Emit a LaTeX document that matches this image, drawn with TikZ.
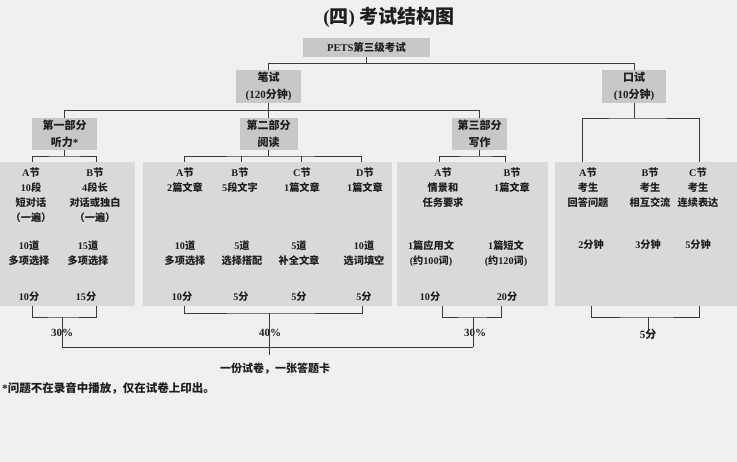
\documentclass[tikz,border=0pt]{standalone}
\usepackage{fontspec}
\setmainfont{Liberation Serif}
\newfontfamily\cjkfont{Noto Sans CJK SC}
\newfontfamily\latfont{Liberation Serif}
\XeTeXinterchartokenstate=1
\newXeTeXintercharclass\cjkclass
\newcount\cjkcnt
\cjkcnt="3000
\loop \XeTeXcharclass\cjkcnt=\cjkclass \advance\cjkcnt by 1 \ifnum\cjkcnt<"A000 \repeat
\cjkcnt="FF00
\loop \XeTeXcharclass\cjkcnt=\cjkclass \advance\cjkcnt by 1 \ifnum\cjkcnt<"FFF0 \repeat
\XeTeXinterchartoks 0 \cjkclass={\cjkfont}
\XeTeXinterchartoks 4095 \cjkclass={\cjkfont}
\XeTeXinterchartoks \cjkclass 0={\latfont}
\XeTeXinterchartoks \cjkclass 4095={\latfont}
\definecolor{bgc}{HTML}{F0F0EE}
\definecolor{panelc}{HTML}{D9D9D7}
\definecolor{hdrc}{HTML}{C8C8C6}
\definecolor{linec}{HTML}{3A3A3A}
\definecolor{txtc}{HTML}{1E1E1E}
\begin{document}
\begin{tikzpicture}[x=1pt,y=-1pt,
  ln/.style={draw=linec, line width=0.8pt},
  hdr/.style={fill=hdrc, inner sep=0pt, align=center, text=txtc,
    font=\bfseries\fontsize{11}{17}\selectfont},
  panel/.style={fill=panelc, draw=none, inner sep=0pt},
  tx/.style={inner sep=0pt, align=center, text=txtc,
    font=\bfseries\fontsize{10.2}{15}\selectfont},
  btx/.style={inner sep=0pt, align=center, text=txtc,
    font=\bfseries\fontsize{11}{15}\selectfont}]
\fill[bgc] (0,0) rectangle (737,462);
\useasboundingbox (0,0) rectangle (737,462);

% title
\node[text=txtc, inner sep=0pt, font=\bfseries\fontsize{19}{19}\selectfont] (title) at (389,17) {(四) 考试结构图};

% panels
\node[panel, minimum width=135pt, minimum height=144pt] (b1) at (67.5,234) {};
\node[panel, minimum width=249pt, minimum height=144pt] (b2) at (267.5,234) {};
\node[panel, minimum width=151pt, minimum height=144pt] (b3) at (472.5,234) {};
\node[panel, minimum width=182pt, minimum height=144pt] (b4) at (646,234) {};

% header boxes
\node[hdr, minimum width=127pt, minimum height=19pt, font=\bfseries\fontsize{10.5}{12}\selectfont] (pets) at (366.5,47.5) {PETS第三级考试};
\node[hdr, minimum width=65pt, minimum height=33pt] (bishi) at (268.5,86.5) {笔试\\(120分钟)};
\node[hdr, minimum width=64pt, minimum height=33pt] (koushi) at (634,86.5) {口试\\(10分钟)};
\node[hdr, minimum width=65pt, minimum height=32pt] (p1) at (64.5,134) {第一部分\\听力*};
\node[hdr, minimum width=58pt, minimum height=32pt] (p2) at (268.5,134) {第二部分\\阅读};
\node[hdr, minimum width=55pt, minimum height=32pt] (p3) at (479.5,134) {第三部分\\写作};

% top connectors
\coordinate (j0) at (366.5,63);
\draw[ln] (pets.south) -- (j0);
\draw[ln] (bishi.north) |- (j0 -| koushi.north) -- (koushi.north);
\coordinate (j1) at (268.5,110);
\draw[ln] (bishi.south) -- (j1);
\draw[ln] (p1.north) |- (j1 -| p3.north) -- (p3.north);
\draw[ln] (j1) -- (p2.north);
\coordinate (j3) at (634,118);
\coordinate (o1) at (582,162);
\coordinate (o3) at (699,162);
\draw[ln] (koushi.south) -- (j3);
\draw[ln] (o1) |- (j3) -| (o3);
\coordinate (k1) at (64.5,156);
\coordinate (a1) at (32,162);
\coordinate (a2) at (96,162);
\draw[ln] (p1.south) -- (k1);
\draw[ln] (a1) |- (k1) -| (a2);
\coordinate (k2) at (268.5,156);
\coordinate (r1) at (184,162);
\coordinate (r2) at (241,162);
\coordinate (r3) at (301,162);
\coordinate (r4) at (361,162);
\draw[ln] (p2.south) -- (k2);
\draw[ln] (r1) |- (k2) -| (r4);
\draw[ln] (r2) -- (r2 |- k2);
\draw[ln] (r3) -- (r3 |- k2);
\coordinate (k3) at (479.5,156);
\coordinate (w1) at (439,162);
\coordinate (w2) at (505,162);
\draw[ln] (p3.south) -- (k3);
\draw[ln] (w1) |- (k3) -| (w2);

% panel 1 texts
\node[tx] (t1a) at (31,195.5) {A节\\10段\\短对话\\（一遍）};
\node[tx] (t1b) at (95,195.5) {B节\\4段长\\对话或独白\\（一遍）};
\node[tx] (q1a) at (29,253.5) {10道\\多项选择};
\node[tx] (q1b) at (88,253.5) {15道\\多项选择};
\node[tx] (f1a) at (29,297) {10分};
\node[tx] (f1b) at (86,297) {15分};

% panel 2 texts
\node[tx] (t2a) at (185,180.5) {A节\\2篇文章};
\node[tx] (t2b) at (240,180.5) {B节\\5段文字};
\node[tx] (t2c) at (302,180.5) {C节\\1篇文章};
\node[tx] (t2d) at (365,180.5) {D节\\1篇文章};
\node[tx] (q2a) at (185,253.5) {10道\\多项选择};
\node[tx] (q2b) at (242,253.5) {5道\\选择搭配};
\node[tx] (q2c) at (299,253.5) {5道\\补全文章};
\node[tx] (q2d) at (364,253.5) {10道\\选词填空};
\node[tx] (f2a) at (182,297) {10分};
\node[tx] (f2b) at (241,297) {5分};
\node[tx] (f2c) at (299,297) {5分};
\node[tx] (f2d) at (364,297) {5分};

% panel 3 texts
\node[tx] (t3a) at (443,188) {A节\\情景和\\任务要求};
\node[tx] (t3b) at (512,180.5) {B节\\1篇文章};
\node[tx] (q3a) at (431,253.5) {1篇应用文\\(约100词)};
\node[tx] (q3b) at (506,253.5) {1篇短文\\(约120词)};
\node[tx] (f3a) at (430,297) {10分};
\node[tx] (f3b) at (507,297) {20分};

% panel 4 texts
\node[tx] (t4a) at (588,188) {A节\\考生\\回答问题};
\node[tx] (t4b) at (650,188) {B节\\考生\\相互交流};
\node[tx] (t4c) at (698,188) {C节\\考生\\连续表达};
\node[tx] (f4a) at (591,245) {2分钟};
\node[tx] (f4b) at (648,245) {3分钟};
\node[tx] (f4c) at (698,245) {5分钟};

% bottom brackets
\coordinate (a1b) at (32,306);
\coordinate (a2b) at (96,306);
\coordinate (m1) at (62,317);
\coordinate (bl1) at (62,347);
\draw[ln] (a1b) |- (m1) -| (a2b);
\draw[ln] (m1) -- (bl1);
\node[btx] (s1) at (62,333) {30\%};

\coordinate (r1b) at (184,306);
\coordinate (r4b) at (362,306);
\coordinate (m2) at (269,313);
\coordinate (e2) at (269,355);
\draw[ln] (r1b) |- (m2) -| (r4b);
\draw[ln] (m2) -- (e2);
\node[btx] (s2) at (270,333) {40\%};

\coordinate (w1b) at (442,306);
\coordinate (w2b) at (501,306);
\coordinate (m3) at (473,317);
\coordinate (bl3) at (473,347);
\draw[ln] (w1b) |- (m3) -| (w2b);
\draw[ln] (m3) -- (bl3);
\node[btx] (s3) at (475,333) {30\%};

\coordinate (o1b) at (591,306);
\coordinate (o3b) at (699,306);
\coordinate (m4) at (648,317);
\node[btx] (s4) at (648,334) {5分};
\draw[ln] (o1b) |- (m4) -| (o3b);
\draw[ln] (m4) -- (s4.north);

\draw[ln] (bl1) -- (bl3);

\node[btx] (fin) at (275,369) {一份试卷，一张答题卡};
\node[btx, anchor=west, font=\bfseries\fontsize{11.5}{15}\selectfont] (fn) at (2,388) {*问题不在录音中播放，仅在试卷上印出。};
\end{tikzpicture}
\end{document}
